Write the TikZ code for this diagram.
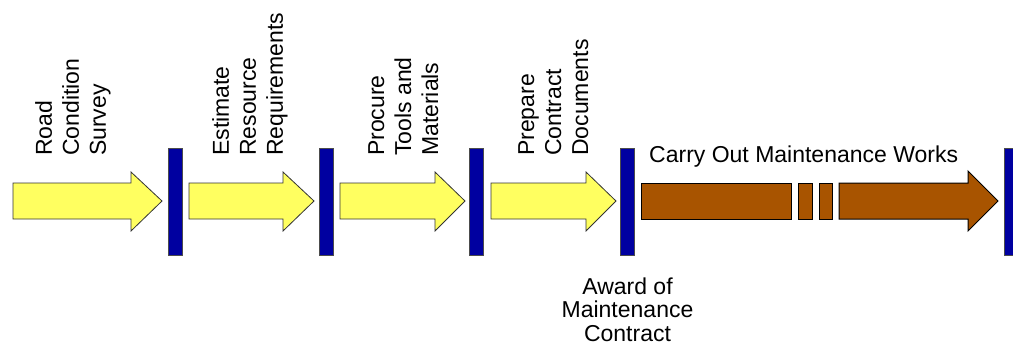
\documentclass[tikz,border=0pt]{standalone}
\usepackage{fontspec}
\setmainfont{Liberation Sans}
\usepackage{tikz}
\usepackage{xcolor}
\usetikzlibrary{
    calc,
    positioning
}
\definecolor{stepyellow}{RGB}{255,255,96}
\definecolor{barblue}{RGB}{0,0,160}
\definecolor{worksbrown}{RGB}{168,84,0}
\tikzset{
    yarrow/.style={draw=black!80, fill=stepyellow, line width=0.8pt},
    barr/.style={draw=black!70, fill=barblue, line width=0.8pt, minimum width=14pt, minimum height=107pt, inner sep=0pt},
    brownpart/.style={draw=black, fill=worksbrown, line width=1pt},
    steptext/.style={rotate=90, anchor=north west, align=left, inner sep=0pt, font=\fontsize{23}{27}\selectfont},
    plaintext/.style={inner sep=0pt, font=\fontsize{23}{23.5}\selectfont}
}

\begin{document}
\begin{tikzpicture}[x=1pt, y=-1pt]
                    \useasboundingbox (0, 0) rectangle (1013, 349);

                    % milestone bars
                    \node[barr] (b1) at (175, 201.5) {};
                    \node[barr] (b2) at (326, 201.5) {};
                    \node[barr] (b3) at (476.5, 201.5) {};
                    \node[barr] (b4) at (627.5, 201.5) {};
                    \node[barr, anchor=west] (b5) at (1004, 201.5) {};

                    % preparation steps
                    \draw[yarrow] (13, 183) -- (131, 183) -- (131, 172) -- (162, 201) -- (131, 231) -- (131, 219) -- (13, 219) -- cycle;
                    \draw[yarrow] (189, 183) -- (283, 183) -- (283, 172) -- (314, 201) -- (283, 231) -- (283, 219) -- (189, 219) -- cycle;
                    \draw[yarrow] (340, 183) -- (435, 183) -- (435, 172) -- (465, 201) -- (435, 231) -- (435, 219) -- (340, 219) -- cycle;
                    \draw[yarrow] (491, 183) -- (586, 183) -- (586, 172) -- (616, 201) -- (586, 231) -- (586, 219) -- (491, 219) -- cycle;

                    \node[steptext] (survey) at (35, 156) {Road\\Condition\\Survey};
                    \node[steptext] (estimate) at (212, 156) {Estimate\\Resource\\Requirements};
                    \node[steptext] (procure) at (368, 156) {Procure\\Tools and\\Materials};
                    \node[steptext] (prepare) at (518, 156) {Prepare\\Contract\\Documents};

                    % maintenance works
                    \draw[brownpart] (641, 183) rectangle (791, 219);
                    \draw[brownpart] (798, 183) rectangle (812, 219);
                    \draw[brownpart] (819, 183) rectangle (832, 219);
                    \draw[brownpart] (839, 183) -- (968, 183) -- (968, 171) -- (998, 201) -- (968, 231) -- (968, 219) -- (839, 219) -- cycle;

                    \node[plaintext, anchor=base west] (works) at (649, 162) {Carry Out Maintenance Works};
                    \node[plaintext, align=center, below=22pt of b4] (award) {Award of\\Maintenance\\Contract};
                \end{tikzpicture}
\end{document}
